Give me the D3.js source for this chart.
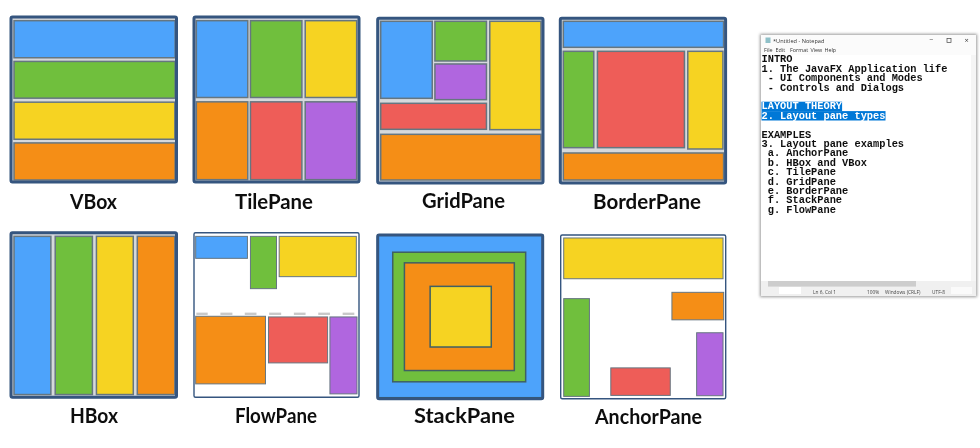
<!DOCTYPE html>
<html><head><meta charset="utf-8">
<script src="https://cdn.jsdelivr.net/npm/d3@7"></script>
<style>html,body{margin:0;padding:0;background:#fff;overflow:hidden}svg{display:block}</style>
</head><body><svg id="c" width="980" height="448"></svg>
<script>
// ---- data: cells as [x0, y0, x1, y1, colour name] in 0..500 pane units ----
const paneNames = ["VBox","TilePane","GridPane","BorderPane","HBox","FlowPane","StackPane","AnchorPane"];
const vbox = [[12,14,493,125,"blue"],[12,136,493,246,"green"],[12,258,492,369,"yellow"],[12,380,493,491,"orange"]];
const tilePane = [[10,14,164,244,"blue"],[172,14,326,244,"green"],[336,14,490,244,"yellow"],[10,257,164,490,"orange"],[172,257,326,490,"red"],[336,257,490,490,"purple"]];
const gridPane = [[12,12,166,243,"blue"],[174,12,328,131,"green"],[174,140,328,247,"purple"],[338,12,491,337,"yellow"],[12,258,328,336,"red"],[12,351,491,488,"orange"]];
const borderPane = [[12,12,491,90,"blue"],[12,102,103,391,"green"],[114,102,374,391,"red"],[384,102,489,395,"yellow"],[12,407,491,488,"orange"]];
const hbox = [[12,14,122,489,"blue"],[135,14,246,489,"green"],[258,14,368,489,"yellow"],[380,14,492,489,"orange"]];
const flowPane = [[8,14,163,80,"blue"],[172,14,250,171,"green"],[258,14,489,135,"yellow"],[8,254,217,457,"orange"],[226,256,403,394,"red"],[410,256,491,487,"purple"]];
const stackPane = [[3,3,497,494,"blue"],[48,55,446,446,"green"],[83,87,412,412,"orange"],[160,158,343,341,"yellow"]];
const anchorPane = [[12,12,489,135,"yellow"],[336,176,491,259,"orange"],[12,195,89,490,"green"],[153,404,331,487,"red"],[410,298,489,488,"purple"]];
const paneCells = [vbox,tilePane,gridPane,borderPane,hbox,flowPane,stackPane,anchorPane];
const flowDashes = [[10,44],[82,118],[155,190],[228,264],[302,337],[375,410],[448,483]];
const colourNames = ["blue","green","yellow","orange","red","purple"];
const colourValues = ["#4da3fb","#6fbf3e","#f6d323","#f58e16","#ee5d58","#b066df"];
const notepadLines = ["INTRO","1. The JavaFX Application life"," - UI Components and Modes"," - Controls and Dialogs","","LAYOUT THEORY","2. Layout pane types","","EXAMPLES","3. Layout pane examples"," a. AnchorPane"," b. HBox and VBox"," c. TilePane"," d. GridPane"," e. BorderPane"," f. StackPane"," g. FlowPane"];
const selectedLines = [5,6];
const menuItems = ["File","Edit","Format","View","Help"];
const statusItems = ["Ln 6, Col 1","100%","Windows (CRLF)","UTF-8"];

// ---- layout ----
const boxes = [[10,16,167.5,167],[193,16,167,167],[376.7,17.3,167.3,166.7],[559.3,17.3,167.3,166.7],
               [10,231.7,167.5,166.5],[193,231.7,167,166.5],[376.7,234,167,165.7],[559.7,234,167,165.7]];
const labelBoxes = [[70,117,209],[235,313,209],[422,505,208],[593,701,209],[70,118,423],[235,317,423],[414,515,423],[595,702,424]];
const whiteBg = new Set(["FlowPane","AnchorPane"]);
const svg = d3.select("#c");
const colour = d3.scaleOrdinal(colourNames, colourValues);
const defs = svg.append("defs");
defs.append("filter").attr("id","soft").append("feGaussianBlur").attr("stdDeviation",0.5);
defs.append("filter").attr("id","softText").append("feGaussianBlur").attr("stdDeviation",0.35);
defs.append("filter").attr("id","shadow").attr("x","-5%").attr("y","-5%").attr("width","110%").attr("height","110%").append("feGaussianBlur").attr("stdDeviation",1.6);
const art = svg.append("g").attr("filter","url(#soft)");

paneNames.forEach((name,i)=>{
  const [bx,by,bw,bh] = boxes[i];
  const x = d3.scaleLinear([0,500],[bx,bx+bw]);
  const y = d3.scaleLinear([0,500],[by,by+bh]);
  const white = whiteBg.has(name);
  const g = art.append("g");
  g.append("rect").attr("x",bx).attr("y",by).attr("width",bw).attr("height",bh).attr("rx",1.5)
    .attr("fill",white?"#fff":"#d6d9dc");
  g.selectAll("rect.cell").data(paneCells[i]).join("rect").attr("class","cell")
    .attr("x",d=>x(d[0])).attr("y",d=>y(d[1]))
    .attr("width",d=>x(d[2])-x(d[0])).attr("height",d=>y(d[3])-y(d[1]))
    .attr("fill",d=>colour(d[4]))
    .attr("stroke",name==="StackPane"?"#3f6064":"#667680").attr("stroke-width",white?1:1.5);
  if(name==="FlowPane"){
    g.selectAll("rect.dash").data(flowDashes).join("rect").attr("class","dash")
      .attr("x",d=>x(d[0])).attr("y",y(243)).attr("width",d=>x(d[1])-x(d[0])).attr("height",y(250)-y(243)).attr("fill","#c8c8c8");
  }
  g.append("rect").attr("x",bx+1).attr("y",by+1).attr("width",bw-2).attr("height",bh-2).attr("rx",1.5)
    .attr("fill","none").attr("stroke","#34557f").attr("stroke-width",white?1.4:3);
  const [l,r,base] = labelBoxes[i];
  art.append("text").attr("x",l).attr("y",base).attr("textLength",r-l).attr("lengthAdjust","spacingAndGlyphs")
    .attr("font-family","Lato").attr("font-weight",700).attr("font-size",21).attr("fill","#111").text(name);
});

// ---- notepad ----
const np = svg.append("g");
np.append("rect").attr("x",760).attr("y",34).attr("width",217).attr("height",263).attr("fill","#9a9a9a").attr("filter","url(#shadow)");
np.append("rect").attr("x",761).attr("y",35).attr("width",215).attr("height",261).attr("fill","#fff");
np.append("rect").attr("x",761).attr("y",35).attr("width",215).attr("height",20).attr("fill","#fbfbfb");
const charW = 6.2, lineH = 9.4, textX = 761.5, firstBase = 62.3;
const lineY = d3.scaleLinear([0,1],[firstBase,firstBase+lineH]);
const body = np.append("g").attr("filter","url(#softText)");
body.selectAll("rect.sel").data(selectedLines).join("rect").attr("class","sel")
  .attr("x",textX).attr("y",d=>lineY(d)-7.6).attr("width",d=>notepadLines[d].length*charW).attr("height",lineH).attr("fill","#0078d7");
body.selectAll("text.line").data(notepadLines).join("text").attr("class","line")
  .attr("x",textX).attr("y",(d,i)=>lineY(i)).style("white-space","pre")
  .attr("font-family","Liberation Mono").attr("font-weight",700).attr("font-size",10.33)
  .attr("fill",(d,i)=>selectedLines.includes(i)?"#fff":"#111").text(d=>d);

np.append("rect").attr("x",971).attr("y",55).attr("width",5).attr("height",226).attr("fill","#f5f5f5");
np.append("rect").attr("x",761).attr("y",281).attr("width",215).attr("height",6).attr("fill","#f0f0f0");
np.append("rect").attr("x",768).attr("y",281).attr("width",148).attr("height",5.6).attr("fill","#cdcdcd");
np.append("rect").attr("x",761).attr("y",287).attr("width",215).attr("height",9).attr("fill","#f0f0f0");
np.append("rect").attr("x",779).attr("y",287).attr("width",22).attr("height",7).attr("fill","#fff");
np.append("rect").attr("x",951).attr("y",287).attr("width",21).attr("height",7).attr("fill","#fafafa");

const soft = np.append("g").attr("filter","url(#softText)");
soft.append("rect").attr("x",765.5).attr("y",37.5).attr("width",5).attr("height",5.5).attr("fill","#8fc0c8");
soft.append("text").attr("x",773).attr("y",42.5).attr("font-family","Open Sans").attr("font-size",5.6).attr("fill","#333").text("*Untitled - Notepad");
soft.append("text").attr("x",929.5).attr("y",42).attr("font-family","Open Sans").attr("font-size",7).attr("fill","#444").text("\u2212");
soft.append("rect").attr("x",947).attr("y",38.5).attr("width",4).attr("height",4).attr("fill","none").attr("stroke","#444").attr("stroke-width",0.7);
soft.append("text").attr("x",964.5).attr("y",43).attr("font-family","Open Sans").attr("font-size",7.5).attr("fill","#444").text("\u00d7");
const menuOff = [764,775.5,790,810.5,824.5];
soft.selectAll("text.menu").data(menuItems).join("text").attr("class","menu")
  .attr("x",(d,i)=>menuOff[i]).attr("y",52).attr("font-family","Open Sans").attr("font-size",5.4).attr("fill","#333").text(d=>d);
const statusOff = [813,867,885,932];
soft.selectAll("text.status").data(statusItems).join("text").attr("class","status")
  .attr("x",(d,i)=>statusOff[i]).attr("y",294).attr("font-family","Open Sans").attr("font-size",4.8).attr("fill","#444").text(d=>d);
</script></body></html>
